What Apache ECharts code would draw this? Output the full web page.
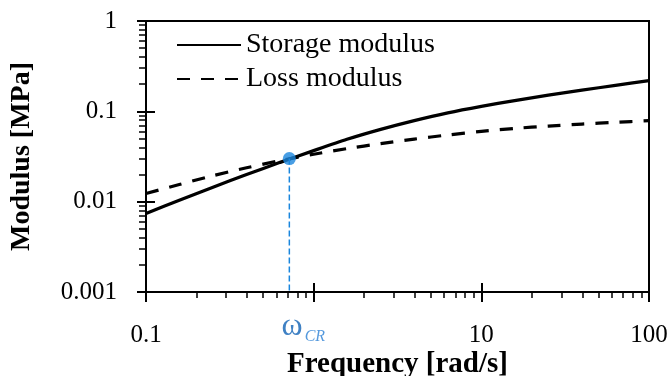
<!DOCTYPE html>
<html>
<head>
<meta charset="utf-8">
<script src="https://cdn.jsdelivr.net/npm/echarts@6/dist/echarts.min.js"></script>
<style>
  html, body { margin: 0; padding: 0; background: #fff; }
  #chart { width: 671px; height: 376px; }
</style>
</head>
<body>
<div id="chart"></div>
<script>
// Angular frequency sweep [rad/s], five points per decade
const frequency = [0.1, 0.158, 0.251, 0.398, 0.631, 1, 1.58, 2.51, 3.98, 6.31, 10, 15.8, 25.1, 39.8, 63.1, 100];
// Storage modulus G' [MPa]
const storageModulus = [0.007413, 0.01035, 0.01445, 0.01995, 0.02723, 0.03673, 0.04898, 0.06310,
  0.07889, 0.09616, 0.1135, 0.1315, 0.1510, 0.1714, 0.1941, 0.2188];
// Loss modulus G'' [MPa]
const lossModulus = [0.01230, 0.01549, 0.01941, 0.02371, 0.02851, 0.03350, 0.03864, 0.04395,
  0.04932, 0.05470, 0.05998, 0.06471, 0.06871, 0.07228, 0.07551, 0.07889];
// Crossover point (omega_CR, G' = G'')
const crossover = [0.716, 0.0300];

// Axis ranges and tick positions
const xRange = [0.1, 100];
const yRange = [0.001, 1];
const xMajorTicks = [0.1, 1, 10, 100];
const xLabelTicks = ['0.1', '', '10', '100'];
const yMajorTicks = [0.001, 0.01, 0.1, 1];
const yLabelTicks = ['0.001', '0.01', '0.1', '1'];
const xMinorTicks = [0.2, 0.3, 0.4, 0.5, 0.6, 0.7, 0.8, 0.9, 2, 3, 4, 5, 6, 7, 8, 9, 20, 30, 40, 50, 60, 70, 80, 90];
const yMinorTicks = [0.002, 0.003, 0.004, 0.005, 0.006, 0.007, 0.008, 0.009,
  0.02, 0.03, 0.04, 0.05, 0.06, 0.07, 0.08, 0.09, 0.2, 0.3, 0.4, 0.5, 0.6, 0.7, 0.8, 0.9];

const FONT = '"Liberation Serif", "DejaVu Serif", serif';
const BLACK = '#000';
const BLUE = '#1a86dd';

function pairs(xs, ys) { return xs.map((x, i) => [x, ys[i]]); }
function labelFor(ticks, labels) {
  return v => {
    const i = ticks.findIndex(t => Math.abs(Math.log10(t) - Math.log10(v)) < 1e-6);
    return i >= 0 ? labels[i] : '';
  };
}

const gridBox = { left: 146, right: 22, top: 21, bottom: 84, outerBoundsMode: 'none', containLabel: false };

const chart = echarts.init(document.getElementById('chart'), null, { renderer: 'canvas' });

chart.setOption({
  animation: false,
  backgroundColor: '#fff',
  grid: [
    Object.assign({ show: true, borderColor: BLACK, borderWidth: 2, backgroundColor: 'transparent' }, gridBox),
    Object.assign({}, gridBox),
    Object.assign({}, gridBox)
  ],
  legend: {
    orient: 'vertical',
    left: 171,
    top: 26,
    itemWidth: 64,
    itemHeight: 2,
    itemGap: 6,
    itemStyle: { opacity: 0 },
    data: ['Storage modulus', 'Loss modulus'],
    textStyle: { fontFamily: FONT, fontSize: 28, color: BLACK }
  },
  xAxis: [
    {
      gridIndex: 0, type: 'log', logBase: 10, min: xRange[0], max: xRange[1],
      name: 'Frequency [rad/s]', nameLocation: 'middle', nameGap: 58, nameMoveOverlap: false,
      nameTextStyle: { fontFamily: FONT, fontSize: 29, fontWeight: 'bold', color: BLACK },
      axisLine: { show: true, lineStyle: { color: BLACK, width: 2 } },
      axisTick: { show: true, inside: false, length: 10, lineStyle: { color: BLACK, width: 2 } },
      axisLabel: { show: true, margin: 31, fontFamily: FONT, fontSize: 25, color: BLACK,
        formatter: labelFor(xMajorTicks, xLabelTicks) },
      splitLine: { show: false }
    },
    {
      gridIndex: 1, type: 'log', logBase: 10, min: xRange[0], max: xRange[1],
      axisLine: { show: false },
      axisTick: { show: true, inside: true, length: 9, lineStyle: { color: BLACK, width: 2 } },
      axisLabel: { show: false }, splitLine: { show: false }
    },
    {
      gridIndex: 2, type: 'log', logBase: 10, min: xRange[0], max: xRange[1],
      axisLine: { show: false },
      axisTick: { show: true, inside: false, length: 6, customValues: xMinorTicks, lineStyle: { color: BLACK, width: 1.5 } },
      axisLabel: { show: false }, splitLine: { show: false }
    }
  ],
  yAxis: [
    {
      gridIndex: 0, type: 'log', logBase: 10, min: yRange[0], max: yRange[1],
      name: 'Modulus [MPa]', nameLocation: 'middle', nameGap: 110, nameMoveOverlap: false,
      nameTextStyle: { fontFamily: FONT, fontSize: 28, fontWeight: 'bold', color: BLACK },
      axisLine: { show: true, lineStyle: { color: BLACK, width: 2 } },
      axisTick: { show: true, inside: false, length: 9, lineStyle: { color: BLACK, width: 2 } },
      axisLabel: { show: true, margin: 29, fontFamily: FONT, fontSize: 25, color: BLACK,
        padding: [6, 0, 0, 0],
        formatter: labelFor(yMajorTicks, yLabelTicks) },
      splitLine: { show: false }
    },
    {
      gridIndex: 1, type: 'log', logBase: 10, min: yRange[0], max: yRange[1],
      axisLine: { show: false },
      axisTick: { show: true, inside: true, length: 9, lineStyle: { color: BLACK, width: 2 } },
      axisLabel: { show: false }, splitLine: { show: false }
    },
    {
      gridIndex: 2, type: 'log', logBase: 10, min: yRange[0], max: yRange[1],
      axisLine: { show: false },
      axisTick: { show: true, inside: false, length: 7, customValues: yMinorTicks, lineStyle: { color: BLACK, width: 1.5 } },
      axisLabel: { show: false }, splitLine: { show: false }
    }
  ],
  series: [
    {
      name: 'Storage modulus', type: 'line', xAxisIndex: 0, yAxisIndex: 0,
      data: pairs(frequency, storageModulus), smooth: 0.25, symbol: 'none',
      lineStyle: { color: BLACK, width: 3.2, type: 'solid' }, itemStyle: { color: BLACK }
    },
    {
      name: 'Loss modulus', type: 'line', xAxisIndex: 0, yAxisIndex: 0,
      data: pairs(frequency, lossModulus), smooth: 0.25, symbol: 'none',
      lineStyle: { color: BLACK, width: 3.2, type: [13, 11] }, itemStyle: { color: BLACK }
    },
    {
      name: 'crossover-drop', type: 'line', xAxisIndex: 0, yAxisIndex: 0,
      data: [crossover, [crossover[0], yRange[0]]],
      symbol: 'none', z: 3, clip: false,
      lineStyle: { color: BLUE, width: 1.5, type: [6, 3] }
    },
    {
      name: 'crossover-label', type: 'scatter', xAxisIndex: 0, yAxisIndex: 0,
      data: [[crossover[0], yRange[0]]], symbolSize: 1, clip: false, z: 4,
      itemStyle: { color: 'rgba(0,0,0,0)' },
      label: {
        show: true, position: 'bottom', distance: 18, offset: [14, 0],
        formatter: '{w|ω}{s|CR}',
        rich: {
          w: { fontFamily: FONT, fontSize: 32, color: '#0f62b5', padding: [0, 0, 8, 0] },
          s: { fontFamily: FONT, fontSize: 16, fontStyle: 'italic', color: '#2b80d4', padding: [12, 0, 0, 2] }
        }
      }
    },
    {
      name: 'crossover', type: 'scatter', xAxisIndex: 0, yAxisIndex: 0,
      data: [crossover], symbolSize: 13, z: 5,
      itemStyle: { color: BLUE }
    }
  ]
});
</script>
</body>
</html>
